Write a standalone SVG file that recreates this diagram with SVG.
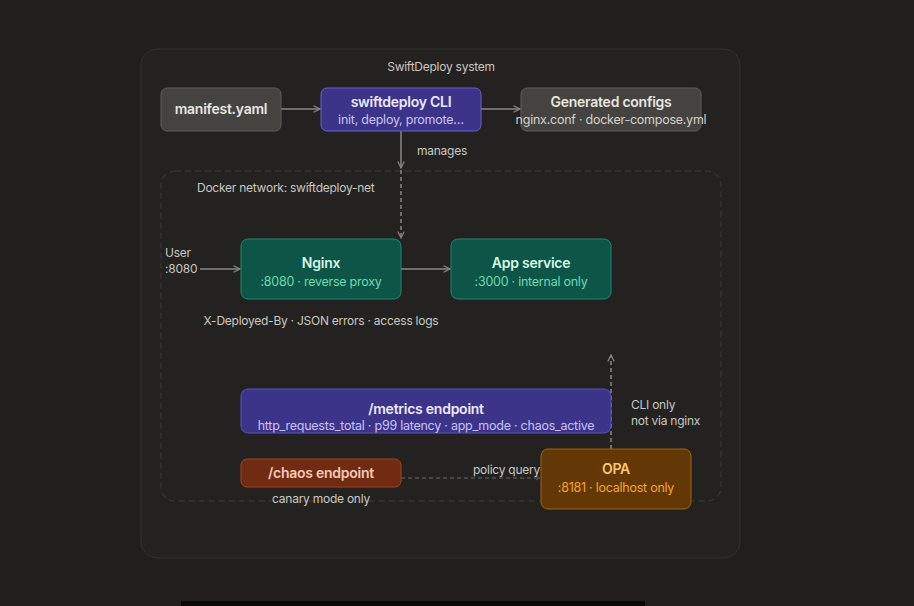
<svg xmlns="http://www.w3.org/2000/svg" width="914" height="606" viewBox="0 0 914 606">
<defs>
<style>
text{font-family:Inter,"Noto Sans","Liberation Sans",sans-serif;letter-spacing:-0.25px;}
.t{font-size:14px;font-weight:600;text-anchor:middle;}
.s{font-size:12.5px;text-anchor:middle;}
.l{font-size:12px;fill:#c9c7c0;}
.edge{stroke:#8a8883;stroke-width:1.5;fill:none;}
.dash{stroke:#8a8883;stroke-width:1.5;fill:none;stroke-dasharray:4 3;}
.dash2{stroke:#6a6864;stroke-width:1.2;fill:none;stroke-dasharray:4 3;}
</style>
<marker id="ah" viewBox="0 0 10 10" refX="9" refY="5" markerWidth="8" markerHeight="8" orient="auto-start-reverse" markerUnits="userSpaceOnUse">
<path d="M1 1 L9 5 L1 9" fill="none" stroke="#8a8883" stroke-width="1.5"/>
</marker>
<marker id="ah2" viewBox="0 0 10 10" refX="9" refY="5" markerWidth="5" markerHeight="5" orient="auto" markerUnits="userSpaceOnUse">
<path d="M1 1 L9 5 L1 9" fill="none" stroke="#6a6864" stroke-width="1.5"/>
</marker>
</defs>
<rect width="914" height="606" fill="#201f1e"/>
<rect x="181" y="601" width="464" height="5" fill="#080807"/>
<g id="system">
<rect x="141" y="49" width="599" height="509" rx="16" fill="#232221" stroke="#33322f" stroke-width="1"/>
<text x="441" y="71" class="l" text-anchor="middle">SwiftDeploy system</text>
</g>
<g id="docker-net">
<rect x="161" y="171" width="560" height="330" rx="14" fill="none" stroke="#3d3c38" stroke-width="1" stroke-dasharray="6 4"/>
<text x="197" y="192" class="l">Docker network: swiftdeploy-net</text>
</g>
<g id="connectors">
<line x1="281" y1="109" x2="320" y2="109" class="edge" marker-end="url(#ah)"/>
<line x1="481" y1="109" x2="520" y2="109" class="edge" marker-end="url(#ah)"/>
<line x1="401" y1="131" x2="401" y2="168" class="edge" marker-end="url(#ah)"/>
<text x="417" y="155" class="l">manages</text>
<line x1="401" y1="170" x2="401" y2="238" class="dash" marker-end="url(#ah)"/>
<line x1="200" y1="269" x2="240" y2="269" class="edge" marker-end="url(#ah)"/>
<line x1="401" y1="269" x2="450" y2="269" class="edge" marker-end="url(#ah)"/>
<line x1="401" y1="478" x2="540" y2="478" class="dash2" marker-end="url(#ah2)"/>
<text x="540" y="474" class="l" text-anchor="end">policy query</text>
<line x1="611" y1="449" x2="611" y2="355" class="dash" marker-end="url(#ah)"/>
<text x="631" y="409" class="l">CLI only</text>
<text x="631" y="425" class="l">not via nginx</text>
</g>
<g id="manifest">
<rect x="161" y="88" width="120" height="43" rx="6" fill="#444340" stroke="#5f5e59"/>
<text x="221" y="114" class="t" fill="#e8e6e0">manifest.yaml</text>
</g>
<g id="cli">
<rect x="321" y="88" width="160" height="43" rx="6" fill="#3c3489" stroke="#6a5fd0"/>
<text x="401" y="107" class="t" fill="#ece9ff">swiftdeploy CLI</text>
<text x="401" y="124" class="s" fill="#c9c3f5">init, deploy, promote…</text>
</g>
<g id="configs">
<rect x="521" y="88" width="180" height="43" rx="6" fill="#444340" stroke="#5f5e59"/>
<text x="611" y="107" class="t" fill="#e8e6e0">Generated configs</text>
<text x="611" y="124" class="s" fill="#d3d1ca">nginx.conf · docker-compose.yml</text>
</g>
<g id="user">
<text x="165" y="257" class="l">User</text>
<text x="165" y="273" class="l">:8080</text>
</g>
<g id="nginx">
<rect x="241" y="239" width="160" height="60" rx="7" fill="#0d5546" stroke="#1d8a6e"/>
<text x="321" y="268" class="t" fill="#d5f5e8">Nginx</text>
<text x="321" y="286" class="s" fill="#6fd9b2">:8080 · reverse proxy</text>
</g>
<text x="321" y="325" class="l" text-anchor="middle">X-Deployed-By · JSON errors · access logs</text>
<g id="app">
<rect x="451" y="239" width="160" height="60" rx="7" fill="#0d5546" stroke="#1d8a6e"/>
<text x="531" y="268" class="t" fill="#d5f5e8">App service</text>
<text x="531" y="286" class="s" fill="#6fd9b2">:3000 · internal only</text>
</g>
<g id="metrics">
<rect x="241" y="389" width="370" height="44" rx="7" fill="#3c3489" stroke="#5c52c0"/>
<text x="426" y="414" class="t" fill="#ece9ff">/metrics endpoint</text>
<text x="426" y="430" class="s" fill="#c9c3f5">http_requests_total · p99 latency · app_mode · chaos_active</text>
</g>
<g id="chaos">
<rect x="241" y="459" width="160" height="28" rx="6" fill="#712b13" stroke="#a3441f"/>
<text x="321" y="478" class="t" fill="#f5c9b4">/chaos endpoint</text>
<text x="321" y="503" class="l" text-anchor="middle">canary mode only</text>
</g>
<g id="opa">
<rect x="541" y="449" width="150" height="60" rx="7" fill="#633806" stroke="#a0620f"/>
<text x="616" y="474" class="t" fill="#fac775">OPA</text>
<text x="616" y="492" class="s" fill="#f5a623">:8181 · localhost only</text>
</g>
</svg>
